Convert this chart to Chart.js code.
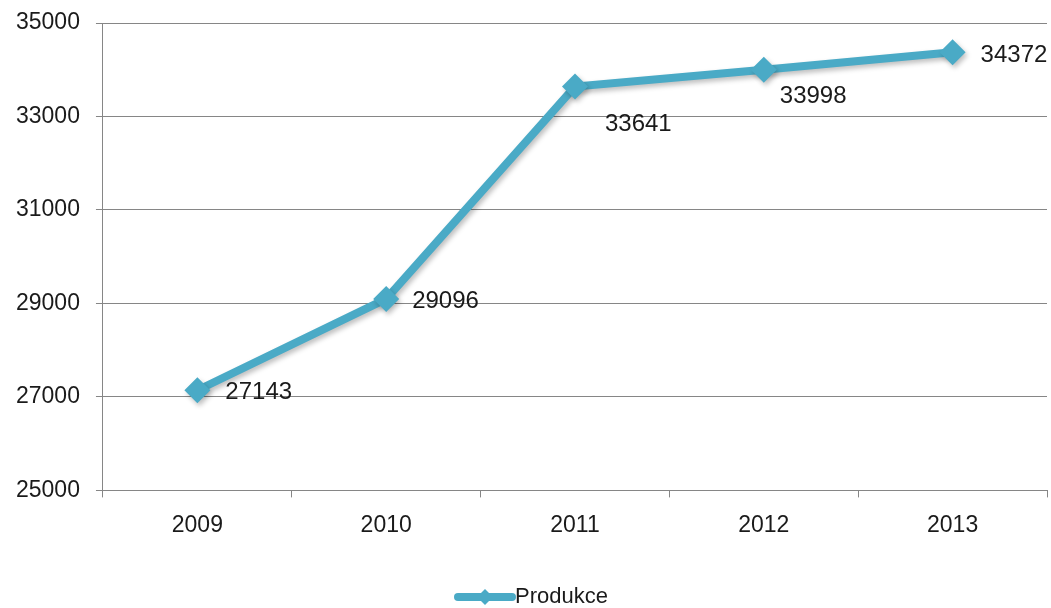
<!DOCTYPE html>
<html>
<head>
<meta charset="utf-8">
<script src="https://cdn.jsdelivr.net/npm/chart.js@4"></script>
<style>
html,body{margin:0;padding:0;background:#fff;}
#wrap{width:1051px;height:608px;position:relative;}
</style>
</head>
<body>
<div id="wrap"><canvas id="c" width="1051" height="608"></canvas></div>
<script>
const categories = ['2009', '2010', '2011', '2012', '2013'];
const produkce = [27143, 29096, 33641, 33998, 34372];
const seriesName = 'Produkce';
const yTicks = [25000, 27000, 29000, 31000, 33000, 35000];

const LINE = '#4aaac6';
const FONT = '"Liberation Sans", Arial, sans-serif';

// label offsets (style only): [dx, dy, align]
const labelPos = [[28, 2, 'left'], [26, 2, 'left'], [30, 38, 'left'], [16, 27, 'left'], [28, 3, 'left']];

const labelPlugin = {
  id: 'valueLabels',
  afterDatasetsDraw(chart) {
    const ctx = chart.ctx;
    const meta = chart.getDatasetMeta(0);
    ctx.save();
    ctx.font = '24px ' + FONT;
    ctx.fillStyle = '#1a1a1a';
    ctx.textBaseline = 'middle';
    meta.data.forEach((pt, i) => {
      const o = labelPos[i];
      ctx.textAlign = o[2];
      ctx.fillText(String(produkce[i]), pt.x + o[0], pt.y + o[1]);
    });
    ctx.restore();
  }
};

const shadowPlugin = {
  id: 'shadow',
  beforeDatasetDraw(chart) {
    const ctx = chart.ctx;
    ctx.save();
    ctx.shadowColor = 'rgba(0,0,0,0.25)';
    ctx.shadowBlur = 5;
    ctx.shadowOffsetX = 2;
    ctx.shadowOffsetY = 3;
  },
  afterDatasetDraw(chart) {
    chart.ctx.restore();
  }
};

const legendPlugin = {
  id: 'customLegend',
  afterDraw(chart) {
    const ctx = chart.ctx;
    const y = 597;
    const x0 = 458, x1 = 512;
    ctx.save();
    ctx.strokeStyle = LINE;
    ctx.lineWidth = 8;
    ctx.lineCap = 'round';
    ctx.beginPath();
    ctx.moveTo(x0, y);
    ctx.lineTo(x1, y);
    ctx.stroke();
    const cx = (x0 + x1) / 2, r = 8;
    ctx.fillStyle = LINE;
    ctx.beginPath();
    ctx.moveTo(cx, y - r); ctx.lineTo(cx + r, y); ctx.lineTo(cx, y + r); ctx.lineTo(cx - r, y);
    ctx.closePath();
    ctx.fill();
    ctx.font = '22px ' + FONT;
    ctx.fillStyle = '#1a1a1a';
    ctx.textAlign = 'left';
    ctx.textBaseline = 'middle';
    ctx.fillText(seriesName, 515, y);
    ctx.restore();
  }
};

new Chart(document.getElementById('c'), {
  type: 'line',
  data: {
    labels: categories,
    datasets: [{
      label: seriesName,
      data: produkce,
      borderColor: LINE,
      backgroundColor: LINE,
      borderWidth: 8,
      pointStyle: 'rectRot',
      pointRadius: 13,
      pointBorderWidth: 0,
      pointBackgroundColor: LINE,
      tension: 0,
      fill: false,
      clip: false
    }]
  },
  options: {
    responsive: false,
    animation: false,
    devicePixelRatio: 1,
    layout: { autoPadding: false, padding: { top: 23, right: 4, left: 0, bottom: 55 } },
    plugins: { legend: { display: false }, tooltip: { enabled: false } },
    scales: {
      x: {
        offset: true,
        afterFit(s) { s.paddingLeft = 0; s.paddingRight = 0; },
        grid: { offset: true, drawOnChartArea: false, drawTicks: true, tickLength: 7, color: '#868686' },
        border: { color: '#868686', width: 1 },
        ticks: { font: { family: FONT, size: 23 }, color: '#1a1a1a', padding: 14 }
      },
      y: {
        min: 25000, max: 35000,
        afterBuildTicks(axis) { axis.ticks = yTicks.map(v => ({ value: v })); },
        afterFit(s) { s.paddingTop = 0; s.paddingBottom = 0; },
        grid: { color: '#868686', drawTicks: true, tickLength: 7 },
        border: { color: '#868686', width: 1 },
        ticks: { font: { family: FONT, size: 23 }, color: '#1a1a1a', padding: 16, callback: v => String(v) }
      }
    }
  },
  plugins: [shadowPlugin, labelPlugin, legendPlugin]
});
</script>
</body>
</html>
